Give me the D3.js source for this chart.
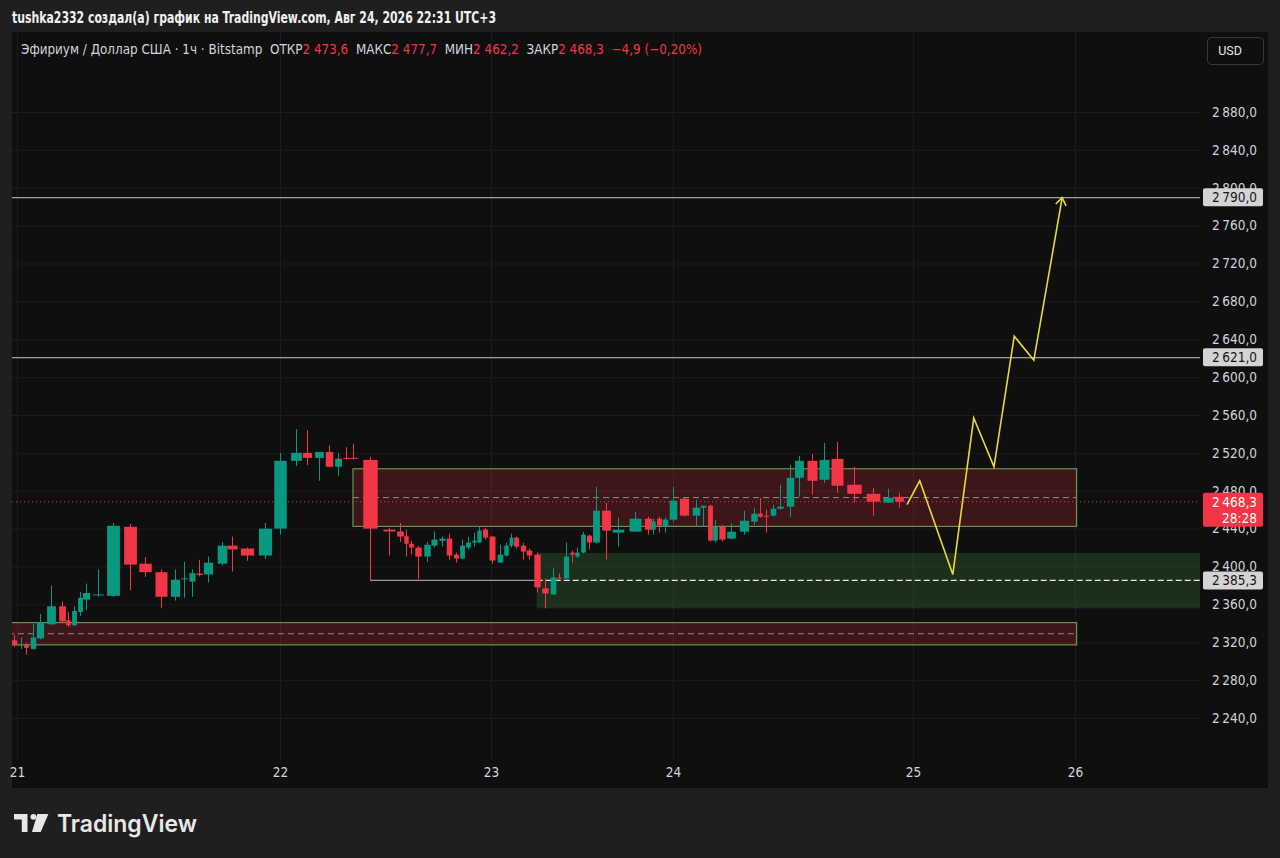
<!DOCTYPE html>
<html>
<head>
<meta charset="utf-8">
<script src="https://cdn.jsdelivr.net/npm/d3@7"></script>
<style>
  html, body { margin: 0; padding: 0; background: #1f1f1f; }
  svg { display: block; }
  .cond { font-family: "Liberation Sans Narrow", "DejaVu Sans Condensed", "Roboto", sans-serif; }
</style>
</head>
<body>
<div id="chart"></div>
<script>
// ---- data ----
const dayLabels = ['21', '22', '23', '24', '25', '26'];
const dayHours = [0, 24, 48, 72, 96, 120];           // hours since 21th 00:00
const priceTicks = d3.range(2240, 2881, 40);

// [hour, open, high, low, close]
const candles = [
  [-0.27, 2322, 2328, 2315, 2317], [0.37, 2317, 2325, 2313, 2318], [0.82, 2318, 2319, 2307, 2314],
  [1.46, 2313, 2339, 2312, 2325], [2.10, 2324, 2350, 2323, 2341], [3.10, 2339, 2380, 2338, 2358],
  [4.11, 2358, 2363, 2340, 2342], [4.65, 2343, 2352, 2336, 2338], [5.20, 2338, 2358, 2337, 2353],
  [5.75, 2352, 2373, 2348, 2367], [6.30, 2365, 2382, 2354, 2372], [7.39, 2369.5, 2397, 2368, 2370.5],
  [8.76, 2369, 2446, 2368, 2443], [10.31, 2442, 2445, 2375, 2402], [11.68, 2403, 2410, 2389, 2394],
  [13.14, 2394, 2397, 2356, 2368], [14.42, 2368, 2397, 2364, 2386], [15.24, 2386.5, 2405, 2367, 2387.5],
  [15.97, 2384, 2397, 2368, 2393], [16.61, 2392.5, 2407, 2389.5, 2391], [17.43, 2391.6, 2410.5, 2383, 2404],
  [18.71, 2403, 2426, 2401, 2422], [19.62, 2422, 2431.6, 2394.7, 2418], [20.99, 2419, 2420, 2406, 2411.6],
  [22.63, 2411.6, 2446, 2408, 2440], [24.0, 2440, 2520, 2433.7, 2511.6], [25.82, 2511.6, 2545, 2506, 2520],
  [27.07, 2520, 2544, 2507, 2514.7], [28.44, 2514.7, 2521, 2490.5, 2521], [29.57, 2521, 2528, 2505, 2505.3],
  [30.60, 2505.3, 2520, 2496, 2513.7], [31.51, 2514.7, 2526, 2513, 2513.7], [32.30, 2514.7, 2529.5, 2513, 2513.7],
  [34.24, 2512.6, 2515.8, 2385.3, 2440], [36.40, 2439, 2441, 2411.6, 2437], [37.65, 2437, 2446, 2426, 2431.6],
  [38.33, 2432, 2439, 2410.5, 2424], [38.90, 2424, 2427, 2412.6, 2420], [39.70, 2420, 2422, 2387, 2410.5],
  [40.72, 2410.5, 2426, 2405, 2423], [41.52, 2422, 2437, 2420, 2428.4], [42.43, 2427, 2431.6, 2421, 2429.5],
  [43.22, 2429.5, 2434.7, 2407, 2411.6], [44.02, 2412.6, 2414.7, 2404, 2408.4], [44.70, 2408.4, 2428.4, 2407.4, 2422],
  [45.38, 2420, 2431.6, 2418, 2425.3], [46.07, 2425.3, 2435.8, 2421, 2427.4], [46.63, 2425.3, 2442, 2425, 2438],
  [47.32, 2439, 2441, 2428.4, 2430.5], [48.13, 2431.6, 2432, 2403, 2406.3], [49.19, 2404.2, 2423, 2404, 2412.6],
  [49.98, 2411.6, 2425.3, 2410.5, 2422], [50.64, 2422, 2434.7, 2420, 2430.5], [51.30, 2430.5, 2431.6, 2419, 2421],
  [52.22, 2422, 2425, 2407.4, 2415.8], [53.01, 2416.8, 2419, 2407.4, 2411.6], [54.07, 2412.6, 2414.7, 2372.6, 2378],
  [55.12, 2377, 2387.4, 2355.8, 2371.6], [56.18, 2370.5, 2398, 2370, 2388.4], [56.97, 2388.4, 2392.6, 2387, 2387.4],
  [57.89, 2387.4, 2425.3, 2387, 2410.5], [58.68, 2414.7, 2416.8, 2404, 2412.6], [59.34, 2410.5, 2420, 2409, 2414.7],
  [60.13, 2414.7, 2436.8, 2413.7, 2433.7], [60.92, 2432.6, 2433.7, 2417.9, 2425.3], [61.85, 2425.3, 2484.2, 2424.2, 2458.9],
  [63.17, 2458.9, 2467.4, 2407.4, 2437.9], [64.75, 2435.8, 2451.6, 2421, 2438.9], [66.99, 2436.8, 2457.9, 2436.8, 2450.5],
  [68.70, 2450.5, 2452.6, 2433.7, 2438.9], [69.36, 2438.9, 2450.5, 2433.7, 2447.4], [70.15, 2450.5, 2452.6, 2435.8, 2443.2],
  [70.95, 2442.1, 2451.6, 2435.8, 2449.5], [72.0, 2449.5, 2484.2, 2447.4, 2469.5], [73.1, 2471.6, 2472.6, 2452.6, 2453.7],
  [74.3, 2453.7, 2470.5, 2442.1, 2462.1], [75.0, 2462.1, 2464.2, 2442.1, 2464.2], [75.7, 2464.2, 2465.3, 2426.3, 2427.4],
  [76.2, 2427.4, 2449.5, 2425.3, 2442.1], [76.9, 2442.1, 2444, 2426.3, 2428.4], [77.8, 2429.5, 2445.3, 2428.4, 2436.8],
  [79.1, 2436.8, 2458.9, 2433.7, 2448.4], [80.1, 2447.4, 2462.1, 2444, 2455.8], [80.7, 2455.8, 2472.6, 2451.6, 2452.6],
  [81.3, 2453.7, 2460, 2435.8, 2452.6], [82.0, 2453.7, 2465.3, 2452.6, 2461.1], [82.7, 2461.1, 2486.3, 2460, 2463.2],
  [83.7, 2463.2, 2507.4, 2452.6, 2493.7], [84.6, 2493.7, 2516.8, 2473.7, 2511.6], [85.9, 2511.6, 2518.9, 2475.8, 2490.5],
  [87.1, 2491.6, 2530.5, 2488.4, 2512.6], [88.4, 2513.7, 2531.6, 2477.9, 2485.3], [90.1, 2486.3, 2505.3, 2467.4, 2476.8],
  [92.0, 2476.8, 2483.2, 2453.7, 2468.4], [93.5, 2467.4, 2482.1, 2467, 2472.6], [94.6, 2473.6, 2477.7, 2462.2, 2468.3]
];

// drawn forecast path [hour, price]
const forecast = [
  [95.4, 2465.3], [97.0, 2490.5], [101.9, 2391.6], [105.0, 2556.8],
  [108.0, 2505.3], [111.0, 2643.2], [113.9, 2617.9], [118.1, 2789.5]
];

// rectangles [fromHour, toHour, top, bottom, mid(or null), kind]
const zones = [
  [-20, 120.25, 2340.7, 2317.2, 2329.0, 'supply'],
  [32.3, 120.25, 2503.2, 2442.4, 2472.8, 'supply'],
  [54.03, 200, 2414.4, 2355.8, null, 'demand']
];

const levels = [2790.0, 2621.0];
const lowRay = [34.24, 2385.3];      // [fromHour, price]
const lastPrice = 2468.3;
const countdown = '28:28';

const headerText = 'tushka2332 создал(а) график на TradingView.com, Авг 24, 2026 22:31 UTC+3';
const symbolText = 'Эфириум / Доллар США · 1ч · Bitstamp';
const ohlc = [['ОТКР', '2 473,6'], ['МАКС', '2 477,7'], ['МИН', '2 462,2'], ['ЗАКР', '2 468,3']];
const change = '−4,9 (−0,20%)';

// ---- layout ----
const W = 1280, H = 858;
const P = { l: 12, r: 1200, t: 32, b: 760 };
const panel = { l: 12, r: 1268, t: 32, b: 788 };
const dayX = [17, 280, 491, 673, 913, 1075];
const C = { up: '#089981', down: '#f23645', text: '#d1d4dc', grid: '#1c1c1c', bg: '#0f0f0f', yellow: '#ecd936', zone: '#79c25c' };

const fmt = d3.formatLocale({ decimal: ',', thousands: '\u202f', grouping: [3], currency: ['', ''] }).format(',.1f');

const svg = d3.select('#chart').append('svg').attr('width', W).attr('height', H);
svg.append('rect').attr('width', W).attr('height', H).attr('fill', '#1f1f1f');
svg.append('rect').attr('x', panel.l).attr('y', panel.t).attr('width', panel.r - panel.l).attr('height', panel.b - panel.t).attr('fill', C.bg);

const x = d3.scaleLinear().domain(dayHours).range(dayX);
const y = d3.scaleLinear().domain([2240, 2880]).range([718, 112]);

svg.append('defs').append('clipPath').attr('id', 'plot')
  .append('rect').attr('x', P.l).attr('y', P.t).attr('width', P.r - P.l).attr('height', P.b - P.t);

// grid
const grid = svg.append('g');
grid.append('g').attr('transform', `translate(${P.l},0)`)
  .call(d3.axisLeft(y).tickValues(priceTicks).tickSize(-(P.r - P.l)).tickFormat(''))
  .call(g => g.select('.domain').remove())
  .call(g => g.selectAll('line').attr('stroke', C.grid));
grid.append('g').attr('transform', `translate(0,${P.b})`)
  .call(d3.axisBottom(x).tickValues(dayHours).tickSize(-(P.b - P.t)).tickFormat(''))
  .call(g => g.select('.domain').remove())
  .call(g => g.selectAll('line').attr('stroke', C.grid));

const plot = svg.append('g').attr('clip-path', 'url(#plot)');

// zones
zones.forEach(([a, b, top, bot, mid, kind]) => {
  const r = plot.append('rect')
    .attr('x', x(a)).attr('width', x(b) - x(a))
    .attr('y', y(top)).attr('height', y(bot) - y(top));
  if (kind === 'supply') {
    r.attr('fill', 'rgba(242,54,69,0.21)').attr('stroke', C.zone).attr('stroke-width', 1).attr('stroke-opacity', 0.9);
  } else {
    r.attr('fill', 'rgba(76,175,80,0.2)');
  }
  if (mid !== null) {
    plot.append('line').attr('x1', x(a)).attr('x2', x(b)).attr('y1', y(mid)).attr('y2', y(mid))
      .attr('stroke', '#8c8c8c').attr('stroke-dasharray', '6,4');
  }
});

// horizontal levels
levels.forEach(v => {
  plot.append('line').attr('x1', P.l).attr('x2', P.r).attr('y1', y(v) + 0.5).attr('y2', y(v) + 0.5)
    .attr('stroke', '#c8c8c8').attr('stroke-width', 1);
});
const demandFrom = zones[2][0];
plot.append('line').attr('x1', x(lowRay[0])).attr('x2', x(demandFrom)).attr('y1', y(lowRay[1])).attr('y2', y(lowRay[1]))
  .attr('stroke', '#9a9a9a').attr('stroke-width', 1.2);
plot.append('line').attr('x1', x(demandFrom)).attr('x2', P.r).attr('y1', y(lowRay[1])).attr('y2', y(lowRay[1]))
  .attr('stroke', '#e6e6e6').attr('stroke-width', 1.2).attr('stroke-dasharray', '6,3');

// last price dotted line
plot.append('line').attr('x1', P.l).attr('x2', P.r).attr('y1', y(lastPrice)).attr('y2', y(lastPrice))
  .attr('stroke', C.down).attr('stroke-dasharray', '1,3').attr('stroke-width', 1);

// candles
const cx = candles.map(d => x(d[0]));
const bodyW = cx.map((v, i) => {
  const gp = i > 0 ? v - cx[i - 1] : cx[1] - cx[0];
  const gn = i < cx.length - 1 ? cx[i + 1] - v : gp;
  return Math.max(3, 0.8 * (gp + gn) / 2);
});
const cg = plot.append('g');
cg.selectAll('line.wick').data(candles).enter().append('line')
  .attr('x1', (d, i) => Math.round(cx[i]) + 0.5).attr('x2', (d, i) => Math.round(cx[i]) + 0.5)
  .attr('y1', d => y(d[2])).attr('y2', d => y(d[3]))
  .attr('stroke', d => d[4] >= d[1] ? C.up : C.down).attr('stroke-width', 1);
cg.selectAll('rect.body').data(candles).enter().append('rect')
  .attr('x', (d, i) => Math.round(cx[i]) + 0.5 - bodyW[i] / 2).attr('width', (d, i) => bodyW[i])
  .attr('y', d => y(Math.max(d[1], d[4])))
  .attr('height', d => Math.max(1, Math.abs(y(d[1]) - y(d[4]))))
  .attr('fill', d => d[4] >= d[1] ? C.up : C.down);

// forecast path
const line = d3.line().x(d => x(d[0])).y(d => y(d[1]));
plot.append('path').datum(forecast).attr('d', line)
  .attr('fill', 'none').attr('stroke', C.yellow).attr('stroke-width', 1.6).attr('stroke-linejoin', 'miter');
{
  const [p0, p1] = forecast.slice(-2).map(d => [x(d[0]), y(d[1])]);
  const ang = Math.atan2(p1[1] - p0[1], p1[0] - p0[0]);
  const L = 9, spread = Math.PI / 5;
  const a1 = [p1[0] - L * Math.cos(ang - spread), p1[1] - L * Math.sin(ang - spread)];
  const a2 = [p1[0] - L * Math.cos(ang + spread), p1[1] - L * Math.sin(ang + spread)];
  plot.append('path').attr('d', `M${a1}L${p1}L${a2}`)
    .attr('fill', 'none').attr('stroke', C.yellow).attr('stroke-width', 1.6);
}

// price axis
const axisG = svg.append('g').attr('class', 'cond').attr('transform', `translate(1257,0)`)
  .call(d3.axisLeft(y).tickValues(priceTicks).tickSize(0).tickPadding(0).tickFormat(fmt));
axisG.select('.domain').remove();
axisG.selectAll('text').attr('fill', C.text).attr('font-size', 13.5).attr('font-family', null);

function priceTag(v, bg, fg, extra) {
  const h = extra ? 34 : 18;
  const top = y(v) - 9;
  const g = svg.append('g').attr('class', 'cond');
  g.append('rect').attr('x', 1203).attr('y', top).attr('width', 60).attr('height', h).attr('rx', 2).attr('fill', bg);
  g.append('text').attr('x', 1257).attr('y', top + 9).attr('dy', '0.35em').attr('text-anchor', 'end')
    .attr('fill', fg).attr('font-size', 13.5).text(fmt(v));
  if (extra) {
    g.append('text').attr('x', 1257).attr('y', top + 25).attr('dy', '0.35em').attr('text-anchor', 'end')
      .attr('fill', fg).attr('font-size', 13.5).text(extra);
  }
}
levels.forEach(v => priceTag(v, '#d4d4d4', '#161616'));
priceTag(lowRay[1], '#d4d4d4', '#161616');
priceTag(lastPrice, C.down, '#ffffff', countdown);

// time axis
const tAxis = svg.append('g').attr('class', 'cond').attr('transform', `translate(0,${P.b})`)
  .call(d3.axisBottom(x).tickValues(dayHours).tickSize(0).tickPadding(7).tickFormat((d, i) => dayLabels[i]));
tAxis.select('.domain').remove();
tAxis.selectAll('text').attr('fill', C.text).attr('font-size', 13.5).attr('font-family', null);

// USD button
svg.append('rect').attr('x', 1207.5).attr('y', 37.5).attr('width', 56).attr('height', 27).attr('rx', 4)
  .attr('fill', 'none').attr('stroke', '#383838');
svg.append('text').attr('x', 1230).attr('y', 51).attr('dy', '0.35em').attr('text-anchor', 'middle')
  .attr('fill', '#e6e6e6').attr('font-size', 12.5).attr('font-family', 'Roboto, sans-serif').text('USD');

// header
svg.append('text').attr('class', 'cond').attr('x', 12).attr('y', 23)
  .attr('fill', '#f0f0f0').attr('font-size', 15.5).attr('font-weight', 'bold')
  .attr('textLength', 484).attr('lengthAdjust', 'spacingAndGlyphs').text(headerText);

const info = svg.append('text').attr('class', 'cond').attr('x', 21).attr('y', 54)
  .attr('font-size', 13.5).attr('textLength', 681).attr('lengthAdjust', 'spacingAndGlyphs')
  .attr('xml:space', 'preserve').style('white-space', 'pre');
info.append('tspan').attr('fill', C.text).text(symbolText + '  ');
ohlc.forEach(([k, v]) => {
  info.append('tspan').attr('fill', C.text).text(k);
  info.append('tspan').attr('fill', C.down).text(v + '  ');
});
info.append('tspan').attr('fill', C.down).text(change);

// logo
const logo = svg.append('g').attr('fill', '#e8e8e8');
logo.append('path').attr('d', 'M14,814H27.5V832H21.8V819.5H14Z');
logo.append('circle').attr('cx', 33.4).attr('cy', 816.8).attr('r', 2.9);
logo.append('path').attr('d', 'M37.3,814H48.4L40.7,832H32Z');
svg.append('text').attr('x', 57).attr('y', 832).attr('fill', '#e8e8e8')
  .attr('font-family', 'Inter, Lato, sans-serif').attr('font-weight', 600).attr('font-size', 24)
  .attr('textLength', 140).attr('lengthAdjust', 'spacingAndGlyphs').text('TradingView');
</script>
</body>
</html>
